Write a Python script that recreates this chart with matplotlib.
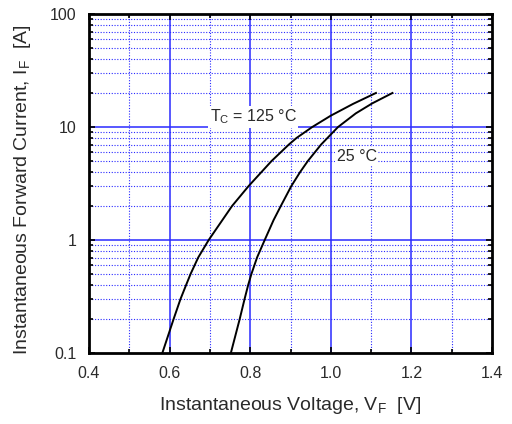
import matplotlib
matplotlib.use("Agg")
import matplotlib.pyplot as plt
import numpy as np
from matplotlib.ticker import FixedLocator, NullFormatter, LogLocator

plt.rcParams['font.family'] = ['Liberation Sans', 'DejaVu Sans']
plt.rcParams['mathtext.fontset'] = 'custom'
plt.rcParams['mathtext.rm'] = 'Liberation Sans'

# Data
v_125 = [0.582, 0.61, 0.627, 0.641, 0.652, 0.671, 0.697, 0.755, 0.796, 0.853,
         0.896, 0.915, 0.954, 1.0, 1.055, 1.112]
i_125 = [0.1, 0.2, 0.3, 0.4, 0.5, 0.7, 1.0, 2.0, 3.0, 5.0,
         7.0, 8.0, 10.0, 12.6, 16.0, 20.0]
v_25 = [0.752, 0.774, 0.786, 0.795, 0.803, 0.817, 0.836, 0.858, 0.876, 0.902,
        0.924, 0.943, 0.976, 1.018, 1.062, 1.103, 1.153]
i_25 = [0.1, 0.2, 0.3, 0.4, 0.5, 0.7, 1.0, 1.5, 2.0, 3.0,
        4.0, 5.0, 7.0, 10.0, 13.2, 16.2, 20.0]
x_ticks = [0.4, 0.6, 0.8, 1.0, 1.2, 1.4]
x_tick_labels = ['0.4', '0.6', '0.8', '1.0', '1.2', '1.4']
y_ticks = [0.1, 1, 10, 100]
y_tick_labels = ['0.1', '1', '10', '100']

fig = plt.figure(figsize=(5.12, 4.24), dpi=100)
ax = fig.add_axes([89/512, 1-353/424, (492-89)/512, (353-14)/424])

ax.set_yscale('log')
ax.set_xlim(0.4, 1.4)
ax.set_ylim(0.1, 100)

# grid
blue = '#2a2aff'
for x in [0.6, 0.8, 1.0, 1.2]:
    ax.axvline(x, color=blue, lw=1.1, zorder=1)
for x in [0.5, 0.7, 0.9, 1.1, 1.3]:
    ax.axvline(x, color=blue, lw=0.8, ls=(0, (1, 1.5)), zorder=1)
for y in [1, 10]:
    ax.axhline(y, color=blue, lw=1.1, zorder=1)
for dec in [0.1, 1, 10]:
    for k in range(2, 10):
        ax.axhline(dec * k, color=blue, lw=0.8, ls=(0, (1, 1.5)), zorder=1)

ax.plot(v_125, i_125, color='black', lw=1.4, zorder=3, solid_joinstyle='round')
ax.plot(v_25, i_25, color='black', lw=1.4, zorder=3, solid_joinstyle='round')

ax.set_xticks(x_ticks)
ax.set_xticklabels(x_tick_labels)
ax.xaxis.set_minor_locator(FixedLocator([0.5, 0.7, 0.9, 1.1, 1.3]))
ax.set_yticks(y_ticks)
ax.set_yticklabels(y_tick_labels)
ax.yaxis.set_minor_locator(LogLocator(base=10, subs=np.arange(2, 10)))
ax.yaxis.set_minor_formatter(NullFormatter())

ax.tick_params(which='both', direction='in', top=True, right=True, color='black', width=1.2)
ax.tick_params(which='major', length=4, labelsize=11.5, pad=9, labelcolor='#2a2a2a')
ax.tick_params(which='minor', length=3)
for s in ax.spines.values():
    s.set_linewidth(2)
    s.set_zorder(5)

fig.text(290/512, 1-405/424, 'Instantaneous Voltage, V$_\\mathregular{F}$  [V]', fontsize=14,
         color='#2a2a2a', ha='center', va='center')
fig.text(23/512, 1-190/424, 'Instantaneous Forward Current, I$_\\mathregular{F}$  [A]', fontsize=14,
         color='#2a2a2a', ha='center', va='center', rotation=90)

ax.text(0.70, 12.3, 'T$_\\mathregular{C}$ = 125 °C', fontsize=11.5, color='#2a2a2a',
        va='center', ha='left', zorder=4,
        bbox=dict(facecolor='white', edgecolor='none', pad=1))
ax.text(1.015, 5.5, '25 °C', fontsize=11.5, color='#2a2a2a', va='center', ha='left', zorder=4,
        bbox=dict(facecolor='white', edgecolor='none', pad=1))

fig.savefig('out.png', dpi=100)
